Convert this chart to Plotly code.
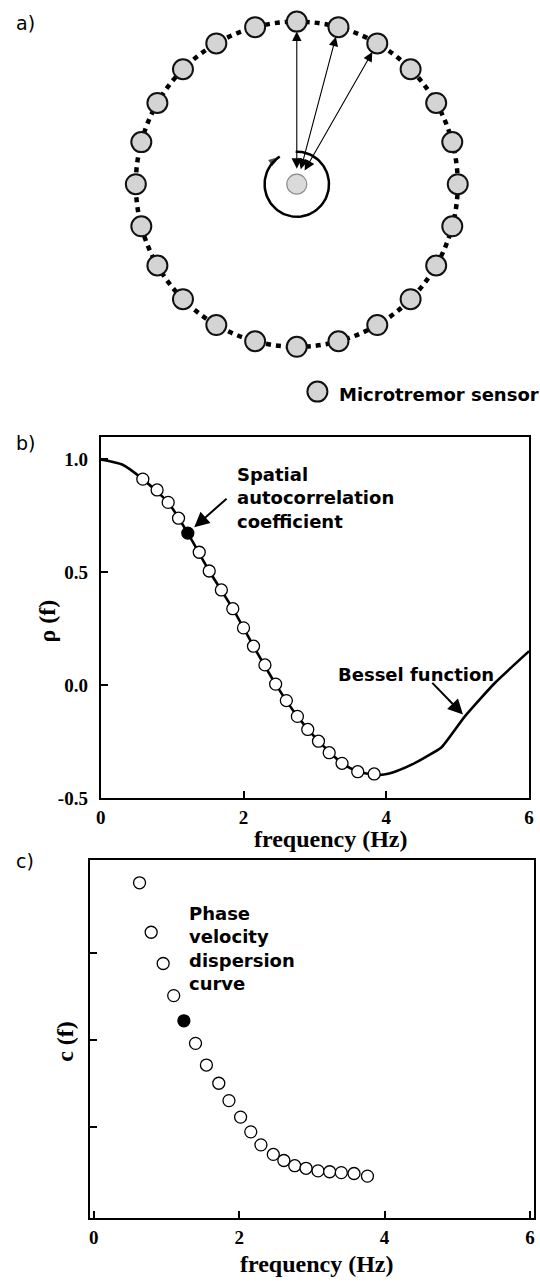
import numpy as np
import plotly.graph_objects as go

W, H = 540, 1282

# ---------------- data ----------------
# a) circular array: 24 sensors on a ring (clockwise angle from north, degrees)
sensor_angles_deg = [0, 15, 30, 45, 60, 75, 90, 105, 120, 135, 150, 165,
                     180, 195, 210, 225, 240, 255, 270, 285, 300, 315, 330, 345]
array_radius = 1.0
pair_angles_deg = [0, 15, 30]          # sensors linked to the centre by arrows
legend_label = "Microtremor sensor"

# b) spatial autocorrelation coefficients and Bessel function
freq_b = [0.59, 0.79, 0.945, 1.09, 1.22, 1.38, 1.52, 1.69, 1.85, 2.00, 2.14,
          2.30, 2.45, 2.60, 2.755, 2.90, 3.05, 3.20, 3.38, 3.60, 3.83]
rho_b = [0.913, 0.865, 0.810, 0.740, 0.674, 0.589, 0.506, 0.422, 0.339, 0.254, 0.173,
         0.090, 0.005, -0.068, -0.138, -0.196, -0.248, -0.299, -0.346, -0.383, -0.393]
bessel_f = [0.0, 0.3, 0.59, 0.945, 1.22, 1.52, 1.85, 2.14, 2.45, 2.755, 3.05,
            3.38, 3.6, 3.9, 4.1, 4.34, 4.55, 4.77, 5.1, 5.52, 6.0]
bessel_rho = [1.0, 0.978, 0.913, 0.810, 0.674, 0.506, 0.339, 0.173, 0.005, -0.138, -0.248,
              -0.346, -0.383, -0.397, -0.385, -0.354, -0.318, -0.276, -0.138, 0.010, 0.151]

# c) phase velocity dispersion curve (arbitrary units)
freq_c = [0.63, 0.79, 0.955, 1.10, 1.24, 1.40, 1.55, 1.72, 1.86, 2.02, 2.16,
          2.30, 2.47, 2.615, 2.765, 2.92, 3.085, 3.245, 3.405, 3.58, 3.765]
vel_c = [3.81, 3.24, 2.88, 2.51, 2.22, 1.96, 1.71, 1.50, 1.30, 1.11, 0.94,
         0.79, 0.68, 0.61, 0.55, 0.52, 0.49, 0.48, 0.47, 0.46, 0.43]
highlight_idx = 4

b_xticks = [0, 2, 4, 6]
b_xticktext = ["0", "2", "4", "6"]
b_yticks = [-0.5, 0.0, 0.5, 1.0]
b_yticktext = ["-0.5", "0.0", "0.5", "1.0"]
c_xticks = [0, 2, 4, 6]
c_xticktext = ["0", "2", "4", "6"]
c_yticks = [1, 2, 3]

# ---------------- layout helpers ----------------
def px(x):
    return x / W

def py(y):
    return 1 - y / H

SANS = "DejaVu Sans"
SERIF = "Liberation Serif"
GREY = "#d4d4d4"

# panel a geometry (pixel scale of one unit radius)
A_SCALE = 164.0
A_CX, A_CY = 297.3, 185.8
A_BOTTOM = 420.0
a_xrange = [(0 - A_CX) / A_SCALE, (W - A_CX) / A_SCALE]
a_yrange = [(A_CY - A_BOTTOM) / A_SCALE, (A_CY - 0) / A_SCALE]

fig = go.Figure()

# ---- panel a ----
th = np.radians(sensor_angles_deg)
sx = array_radius * np.sin(th)
sy = array_radius * np.cos(th)

fig.add_shape(type="circle", xref="x", yref="y", x0=-array_radius, y0=-array_radius,
              x1=array_radius, y1=array_radius,
              line=dict(color="black", width=4.5, dash="5px,5px"), layer="below")

# rotation arrow around the centre sensor
arc_deg = np.linspace(92, -238, 90)
arc_r = 0.2
arc_x = arc_r * np.cos(np.radians(arc_deg))
arc_y = arc_r * np.sin(np.radians(arc_deg))
arc_sizes = [0] * (len(arc_deg) - 1) + [12]
fig.add_trace(go.Scatter(x=arc_x, y=arc_y, mode="lines+markers", xaxis="x", yaxis="y",
                         line=dict(color="black", width=2.5),
                         marker=dict(symbol="arrow", size=arc_sizes, color="black",
                                     angleref="previous", line=dict(width=0)),
                         hoverinfo="skip", showlegend=False))

fig.add_trace(go.Scatter(x=sx, y=sy, mode="markers", xaxis="x", yaxis="y",
                         marker=dict(size=20, color=GREY, line=dict(color="#111", width=2)),
                         name=legend_label, showlegend=False))
fig.add_trace(go.Scatter(x=[0], y=[0], mode="markers", xaxis="x", yaxis="y",
                         marker=dict(size=20, color="#dadada", line=dict(color="#8a8a8a", width=1.2)),
                         showlegend=False, hoverinfo="skip"))

# legend symbol
leg_x = (318.3 - A_CX) / A_SCALE
leg_y = (A_CY - 395) / A_SCALE
fig.add_trace(go.Scatter(x=[leg_x], y=[leg_y], mode="markers", xaxis="x", yaxis="y",
                         marker=dict(size=20, color=GREY, line=dict(color="#111", width=2)),
                         showlegend=False, hoverinfo="skip"))

annotations = []
for ang in pair_angles_deg:
    t = np.radians(ang)
    annotations.append(dict(
        x=array_radius * np.sin(t), y=array_radius * np.cos(t), ax=0, ay=0,
        xref="x", yref="y", axref="x", ayref="y", text="", showarrow=True,
        arrowside="end+start", arrowhead=2, startarrowhead=2,
        arrowsize=1.7, startarrowsize=1.9, arrowwidth=1.1, arrowcolor="black",
        standoff=10, startstandoff=14))

annotations.append(dict(x=(338.3 - A_CX) / A_SCALE, y=(A_CY - 398) / A_SCALE,
                        xref="x", yref="y",
                        text=legend_label, showarrow=False, xanchor="left", yanchor="middle",
                        font=dict(family=SANS, size=18, color="black", weight="bold")))

# ---- panel b ----
marker_colors_b = ["black" if i == highlight_idx else "white" for i in range(len(freq_b))]
fig.add_trace(go.Scatter(x=bessel_f, y=bessel_rho, mode="lines", xaxis="x2", yaxis="y2",
                         line=dict(color="black", width=2.6, shape="spline", smoothing=0.5),
                         showlegend=False))
fig.add_trace(go.Scatter(x=freq_b, y=rho_b, mode="markers", xaxis="x2", yaxis="y2",
                         marker=dict(size=12, color=marker_colors_b,
                                     line=dict(color="black", width=1.3)),
                         showlegend=False))

# ---- panel c ----
marker_colors_c = ["black" if i == highlight_idx else "white" for i in range(len(freq_c))]
fig.add_trace(go.Scatter(x=freq_c, y=vel_c, mode="markers", xaxis="x3", yaxis="y3",
                         marker=dict(size=12, color=marker_colors_c,
                                     line=dict(color="black", width=1.3)),
                         showlegend=False))

# panel labels
for lab, yy in [("a)", 23), ("b)", 447), ("c)", 868)]:
    annotations.append(dict(x=px(20.5), y=py(yy), xref="paper", yref="paper", text=lab,
                            showarrow=False, xanchor="center", yanchor="middle",
                            font=dict(family=SANS, size=19, color="black")))

# panel b texts & arrows
bold_sans = dict(family=SANS, size=18, color="black", weight="bold")
annotations.append(dict(x=1.879, y=0.829, xref="x2", yref="y2",
                        text="Spatial<br>autocorrelation<br>coefficient",
                        showarrow=False, xanchor="left", yanchor="middle", align="left",
                        font=bold_sans))
annotations.append(dict(x=1.31, y=0.70, ax=1.784, ay=0.832, xref="x2", yref="y2",
                        axref="x2", ayref="y2", text="", showarrow=True, arrowhead=2,
                        arrowsize=1.5, arrowwidth=2, arrowcolor="black"))
annotations.append(dict(x=3.299, y=0.049, xref="x2", yref="y2", text="Bessel function",
                        showarrow=False, xanchor="left", yanchor="middle", font=bold_sans))
annotations.append(dict(x=5.074, y=-0.130, ax=4.624, ay=0.017, xref="x2", yref="y2",
                        axref="x2", ayref="y2", text="", showarrow=True, arrowhead=2,
                        arrowsize=1.5, arrowwidth=2, arrowcolor="black"))

# panel c text
annotations.append(dict(x=1.277, y=3.058, xref="x3", yref="y3",
                        text="Phase<br>velocity<br>dispersion<br>curve",
                        showarrow=False, xanchor="left", yanchor="middle", align="left",
                        font=bold_sans))

# axis titles
title_font = dict(family=SERIF, size=24, color="black", weight="bold")
annotations.append(dict(x=px(331.7), y=py(846), xref="paper", yref="paper",
                        text="frequency (Hz)", showarrow=False, font=title_font,
                        xanchor="center", yanchor="middle"))
annotations.append(dict(x=px(43), y=py(626.7), xref="paper", yref="paper",
                        text="\u03c1 (f)", textangle=-90, showarrow=False, font=title_font,
                        xanchor="center", yanchor="middle"))
annotations.append(dict(x=px(317.5), y=py(1275), xref="paper", yref="paper",
                        text="frequency (Hz)", showarrow=False, font=title_font,
                        xanchor="center", yanchor="middle"))
annotations.append(dict(x=px(61), y=py(1050), xref="paper", yref="paper",
                        text="c (f)", textangle=-90, showarrow=False, font=title_font,
                        xanchor="center", yanchor="middle"))

tick_font = dict(family=SERIF, size=19, color="black", weight="bold")
frame = dict(showline=True, linecolor="black", linewidth=2, mirror=True,
             showgrid=False, zeroline=False, ticks="inside", ticklen=7,
             tickwidth=2, tickcolor="black", tickfont=tick_font, fixedrange=True)

fig.update_layout(
    width=W, height=H, margin=dict(l=0, r=0, t=0, b=0),
    paper_bgcolor="white", plot_bgcolor="rgba(0,0,0,0)",
    showlegend=False,
    xaxis=dict(domain=[0, 1], range=a_xrange, visible=False, fixedrange=True),
    yaxis=dict(domain=[py(A_BOTTOM), 1], range=a_yrange, visible=False, fixedrange=True),
    xaxis2=dict(domain=[px(97.5), px(534)], range=[0, 6], anchor="y2",
                tickvals=b_xticks, ticktext=b_xticktext, ticklabelstandoff=1, **frame),
    yaxis2=dict(domain=[py(805), py(440.7)], range=[-0.5, 1.1], anchor="x2",
                tickvals=b_yticks, ticktext=b_yticktext, ticklabelstandoff=7, **frame),
    xaxis3=dict(domain=[px(86.7), px(539.3)], range=[-0.05, 6.06], anchor="y3",
                tickvals=c_xticks, ticktext=c_xticktext, ticklabelstandoff=1, **frame),
    yaxis3=dict(domain=[py(1228.3), py(867.7)], range=[-0.05, 4.07], anchor="x3",
                tickvals=c_yticks, showticklabels=False, **frame),
    annotations=annotations,
)

fig.write_html("out.html")
